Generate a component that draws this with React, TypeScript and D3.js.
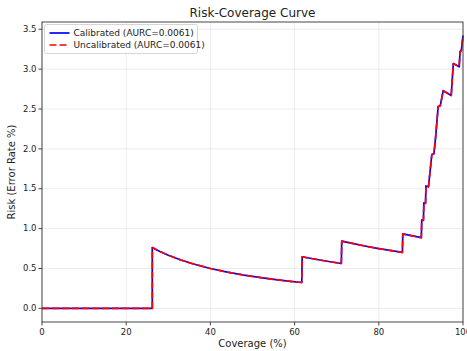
import * as d3 from "d3";
import { useEffect } from "react";

const WIDTH = 467;
const HEIGHT = 351;
const MARGIN = { top: 22, right: 4, bottom: 29, left: 42 };
const INNER_W = WIDTH - MARGIN.left - MARGIN.right;
const INNER_H = HEIGHT - MARGIN.top - MARGIN.bottom;

// Curve vertices: coverage (%) and risk (error rate %).
const COVERAGE = [
  0, 26.2, 26.2, 28, 30, 33, 36, 40, 44, 48, 52, 56, 59, 61.7,
  61.8, 64, 67, 71.1, 71.2, 74, 77, 80, 83, 85.6, 85.7, 88, 90.1,
  90.2, 90.6, 90.7, 91.1, 91.2, 91.8, 92.6, 93.1, 93.5, 94.1, 94.6,
  95.3, 97.2, 97.7, 99.1, 99.3, 99.6, 100,
];
const RISK = [
  0, 0, 0.763, 0.714, 0.667, 0.606, 0.556, 0.5, 0.455, 0.417, 0.385, 0.357, 0.339, 0.324,
  0.647, 0.625, 0.597, 0.563, 0.843, 0.811, 0.779, 0.75, 0.723, 0.701, 0.934, 0.909, 0.888,
  1.109, 1.104, 1.323, 1.317, 1.535, 1.525, 1.93, 1.94, 2.15, 2.53, 2.54,
  2.73, 2.67, 3.07, 3.03, 3.22, 3.23, 3.42,
];

const X_TICKS = [0, 20, 40, 60, 80, 100];
const Y_TICKS = [0, 0.5, 1, 1.5, 2, 2.5, 3, 3.5];
const SERIES = [
  { label: "Calibrated (AURC=0.0061)", color: "#0000ff", dash: null },
  { label: "Uncalibrated (AURC=0.0061)", color: "#ff0000", dash: "7,3" },
];

const FONT = "DejaVu Sans, sans-serif";

export default function App() {
  useEffect(() => {
    document.body.style.margin = "0";
  }, []);

  const points = COVERAGE.map((c, i) => [c, RISK[i]] as [number, number]);
  const maxRisk = d3.max(RISK) ?? 1;
  const pad = maxRisk * 0.05;
  const x = d3.scaleLinear().domain([0, 100]).range([0, INNER_W]);
  const y = d3.scaleLinear().domain([-pad, maxRisk + pad]).range([INNER_H, 0]);
  const line = d3
    .line<[number, number]>()
    .x((d) => x(d[0]))
    .y((d) => y(d[1]));
  const path = line(points) ?? "";

  return (
    <svg width={WIDTH} height={HEIGHT} style={{ display: "block", background: "#fff" }}>
      <text
        x={MARGIN.left + INNER_W / 2}
        y={17}
        textAnchor="middle"
        fontFamily={FONT}
        fontSize={12}
        fill="#222"
      >
        Risk-Coverage Curve
      </text>
      <g transform={`translate(${MARGIN.left},${MARGIN.top})`}>
        {X_TICKS.map((t) => (
          <line key={`gx${t}`} x1={x(t)} x2={x(t)} y1={0} y2={INNER_H} stroke="#b0b0b0" strokeOpacity={0.3} strokeWidth={0.8} />
        ))}
        {Y_TICKS.map((t) => (
          <line key={`gy${t}`} x1={0} x2={INNER_W} y1={y(t)} y2={y(t)} stroke="#b0b0b0" strokeOpacity={0.3} strokeWidth={0.8} />
        ))}
        {SERIES.map((s) => (
          <path
            key={s.label}
            d={path}
            fill="none"
            stroke={s.color}
            strokeWidth={1.7}
            strokeDasharray={s.dash ?? undefined}
            strokeLinejoin="round"
          />
        ))}
        <rect x={0} y={0} width={INNER_W} height={INNER_H} fill="none" stroke="#333" strokeWidth={0.9} />
        {X_TICKS.map((t) => (
          <g key={`tx${t}`} transform={`translate(${x(t)},${INNER_H})`}>
            <line y1={0} y2={3.5} stroke="#333" strokeWidth={0.9} />
            <text y={13} textAnchor="middle" fontFamily={FONT} fontSize={8.5} fill="#222">
              {t}
            </text>
          </g>
        ))}
        {Y_TICKS.map((t) => (
          <g key={`ty${t}`} transform={`translate(0,${y(t)})`}>
            <line x1={-3.5} x2={0} stroke="#333" strokeWidth={0.9} />
            <text x={-5.5} dy="0.32em" textAnchor="end" fontFamily={FONT} fontSize={8.5} fill="#222">
              {t.toFixed(1)}
            </text>
          </g>
        ))}
        <text
          x={INNER_W / 2}
          y={INNER_H + 25}
          textAnchor="middle"
          fontFamily={FONT}
          fontSize={10}
          fill="#222"
        >
          Coverage (%)
        </text>
        <text
          transform={`translate(${-27},${INNER_H / 2}) rotate(-90)`}
          textAnchor="middle"
          fontFamily={FONT}
          fontSize={10}
          fill="#222"
        >
          Risk (Error Rate %)
        </text>
        <g transform="translate(2.5,2.5)">
          <rect width={153} height={29} rx={2} fill="#fff" fillOpacity={0.8} stroke="#ccc" strokeWidth={0.8} />
          {SERIES.map((s, i) => (
            <g key={`lg${i}`} transform={`translate(0,${8.5 + i * 12})`}>
              <line x1={5} x2={25} stroke={s.color} strokeWidth={1.7} strokeDasharray={s.dash ?? undefined} />
              <text x={29} dy="0.32em" fontFamily={FONT} fontSize={9} fill="#222">
                {s.label}
              </text>
            </g>
          ))}
        </g>
      </g>
    </svg>
  );
}
